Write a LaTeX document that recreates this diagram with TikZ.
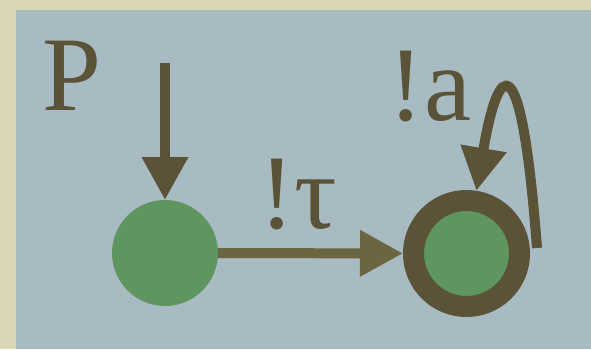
\documentclass[tikz,border=0pt]{standalone}
\usepackage{fontspec}
\setmainfont{Liberation Serif}
\usetikzlibrary{arrows.meta}
\definecolor{frame}{HTML}{D9D7B3}
\definecolor{panel}{HTML}{A8BBC2}
\definecolor{statefill}{HTML}{5F9660}
\definecolor{ink}{HTML}{5A5338}
\definecolor{inklight}{HTML}{6B6541}
\tikzset{
  state/.style={circle, fill=statefill, minimum size=106pt, inner sep=0pt, outer sep=0pt},
  accepting/.style={state, draw=ink, line width=21pt, outer sep=10.5pt},
  lbl/.style={text=ink, inner sep=0pt, font=\fontsize{106}{112}\selectfont},
  edge/.style={line width=10pt, -{Triangle[length=43pt,width=44pt]}},
}
\begin{document}
\begin{tikzpicture}[x=1pt,y=1pt]
\useasboundingbox (0,0) rectangle (591,349);
\fill[frame] (0,0) rectangle (591,349);
\fill[panel] (16,0) rectangle (591,339);

\node[state] (s0) at (165,96) {};
\node[accepting] (s1) at (466.5,95.5) {};

\node[lbl, anchor=base] (lp) at (71.5,239) {P};
\node[lbl, anchor=base] (ltau) at (298,121) {!τ};
\node[lbl, anchor=base] (la) at (430,229) {!a};

\coordinate (init) at (165,286);
\coordinate (loopstart) at (537,101);

\draw[edge, draw=ink] (init) -- (s0);
\draw[edge, draw=inklight] (s0) -- (s1);
\draw[edge, draw=ink] (loopstart) .. controls (521,312) and (498,286) .. (s1.81);
\end{tikzpicture}
\end{document}
